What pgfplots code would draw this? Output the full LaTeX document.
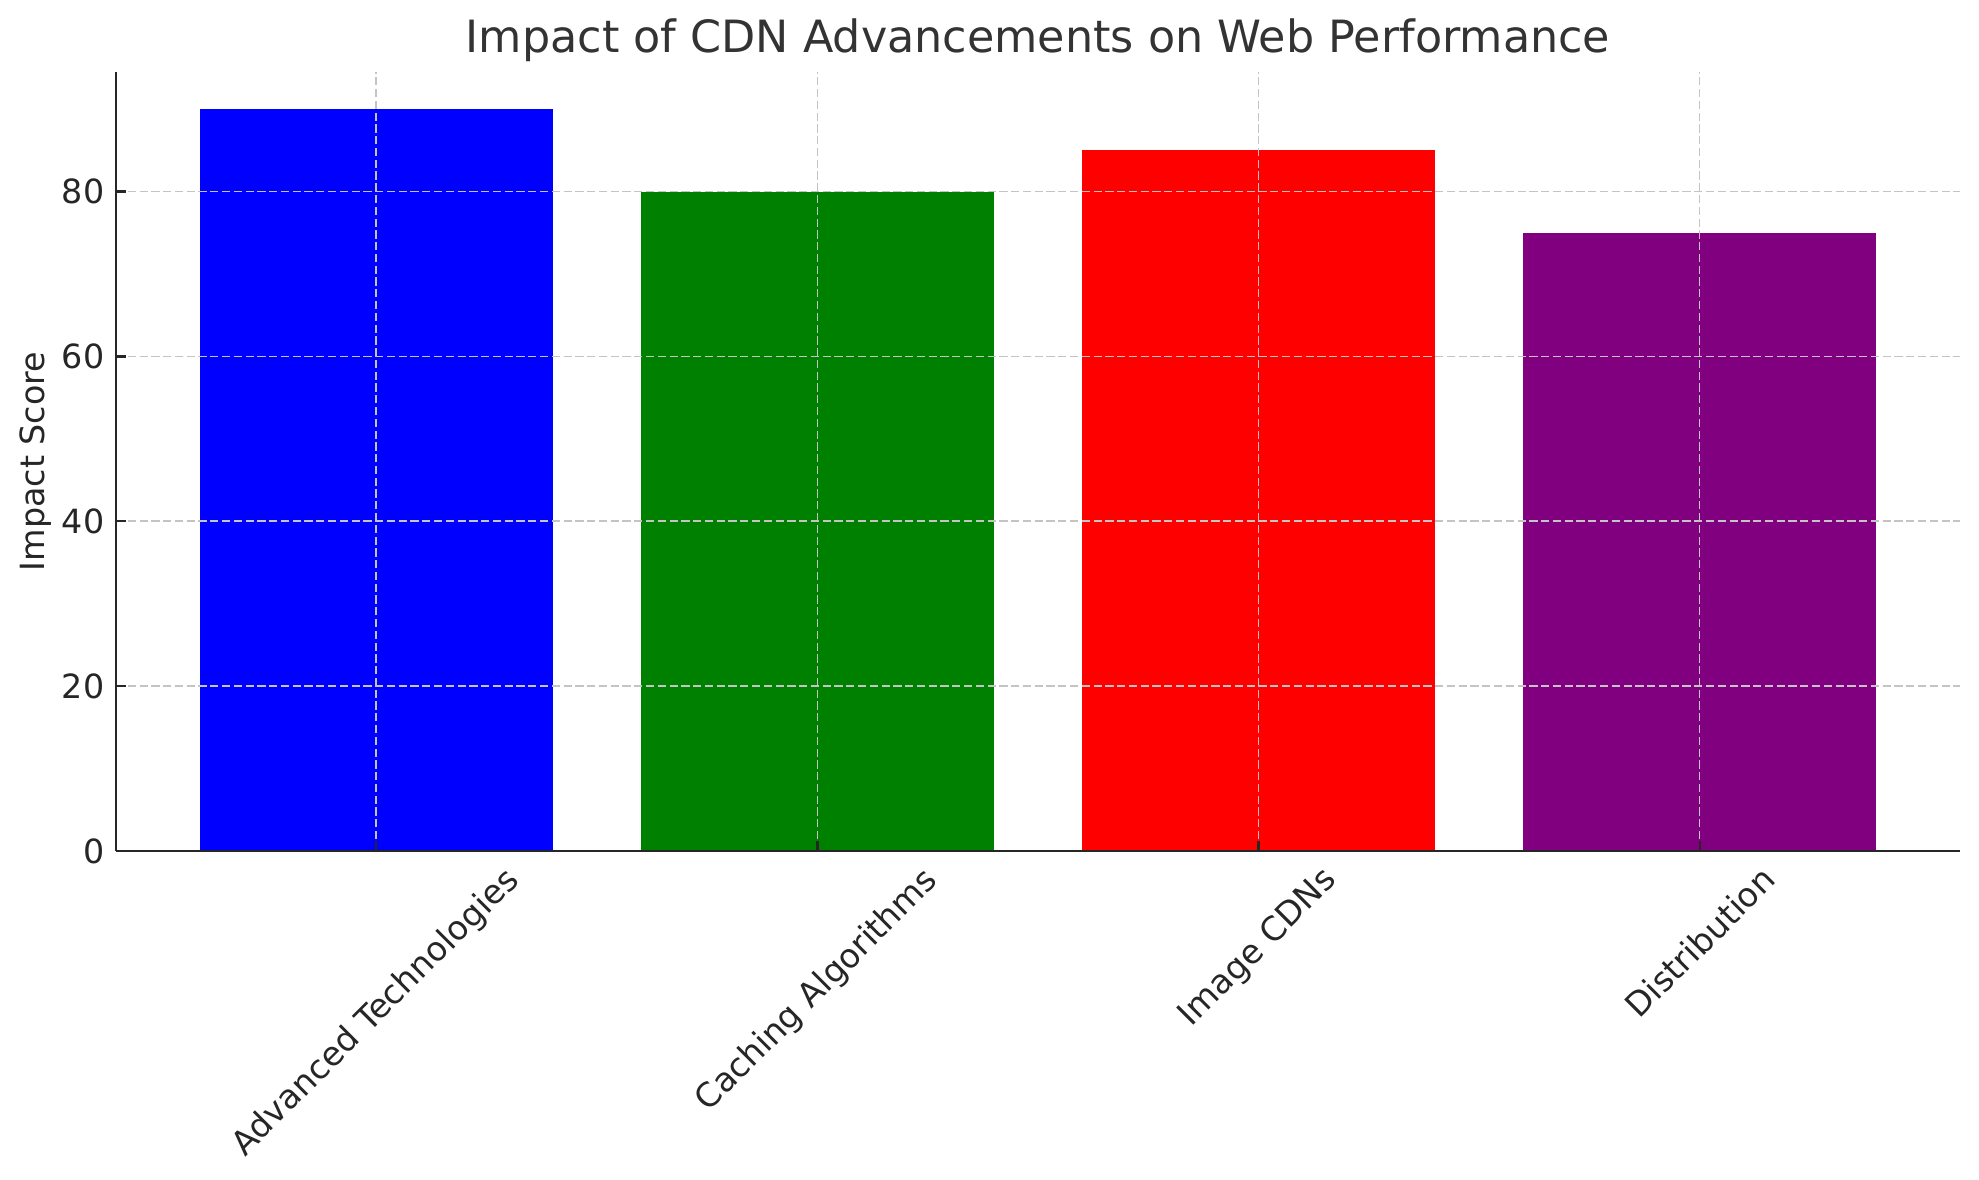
\documentclass[border=0pt]{standalone}
\usepackage{graphicx}
\usepackage{fontspec}
\setmainfont{DejaVu Sans}
\usepackage{pgfplots}
\pgfplotsset{compat=1.18}
\definecolor{txt}{HTML}{262626}
\definecolor{ttl}{HTML}{333333}
\definecolor{gridc}{HTML}{C4C4C4}
\definecolor{mgreen}{RGB}{0,128,0}
\definecolor{mpurple}{RGB}{128,0,128}
\begin{document}
\begin{tikzpicture}
\begin{axis}[
  name=ax,
  scale only axis,
  width=663.8pt, height=280.4pt,
  xmin=-0.59, xmax=3.59, ymin=0, ymax=94.5,
  axis x line*=bottom, axis y line*=left,
  axis line style={color=txt, line width=0.8pt},
  xtick={0,1,2,3},
  xticklabels={\rotatebox{45}{Advanced Technologies},\rotatebox{45}{Caching Algorithms},\rotatebox{45}{Image CDNs},\rotatebox{45}{Distribution}},
  ytick={0,20,40,60,80},
  tick align=inside, xtick pos=bottom, ytick pos=left,
  major tick length=3.5pt,
  tick style={color=txt, line width=0.8pt},
  /pgf/number format/assume math mode=true,
  ticklabel style={font=\fontsize{12}{14.4}\selectfont, text=txt, inner sep=0pt},
  xticklabel style={anchor=north, yshift=-4.5pt},
  yticklabel style={anchor=east, xshift=-4pt},
  grid=major,
  major grid style={color=gridc, line width=0.6pt, dash pattern=on 2.96pt off 1.28pt},
  axis on top,
  ylabel={Impact Score},
  ylabel style={at={(axis description cs:-0.0437,0.5)}, anchor=center, font=\fontsize{12}{14.4}\selectfont, text=txt},
  title={Impact of CDN Advancements on Web Performance},
  title style={at={(axis description cs:0.5,1)}, anchor=base, yshift=0.9pt, font=\fontsize{16}{19.2}\selectfont, text=ttl},
]
\addplot[ybar, bar width=0.8, bar shift=0pt, fill=blue, draw=none] coordinates {(0,90)};
\addplot[ybar, bar width=0.8, bar shift=0pt, fill=mgreen, draw=none] coordinates {(1,80)};
\addplot[ybar, bar width=0.8, bar shift=0pt, fill=red, draw=none] coordinates {(2,85)};
\addplot[ybar, bar width=0.8, bar shift=0pt, fill=mpurple, draw=none] coordinates {(3,75)};
\end{axis}
\pgfresetboundingbox
\path ([shift={(-41.76pt,-118.44pt)}]ax.south west) rectangle ([shift={(670.68pt,306.36pt)}]ax.south west);
\end{tikzpicture}
\end{document}
